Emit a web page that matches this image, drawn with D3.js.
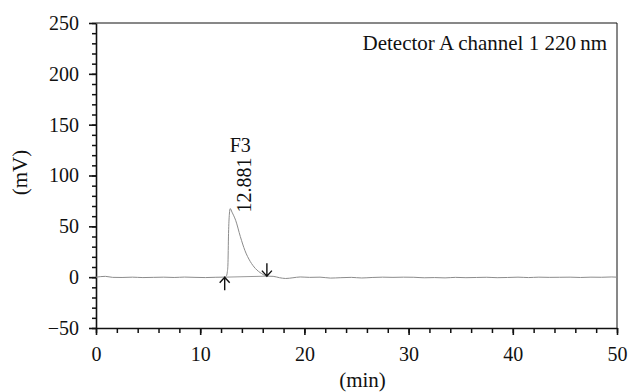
<!DOCTYPE html>
<html>
<head>
<meta charset="utf-8">
<script src="https://cdn.jsdelivr.net/npm/d3@7"></script>
<style>
  body { margin: 0; background: #fff; }
  svg text { font-family: "Liberation Serif", "Times New Roman", serif; fill: #111; }
</style>
</head>
<body>
<svg id="chart" width="629" height="392"></svg>
<script>
// retention time (min) and detector signal (mV)
const timeMin = [0, 0.9, 1.6, 2.5, 3.5, 4.5, 5.5, 6.5, 7.5, 8.5, 9.5, 10.5, 11.5, 12.1,
  12.4, 12.5, 12.6, 12.66, 12.72, 12.8, 12.88, 13.05, 13.4, 13.85, 14.3, 14.8, 15.3,
  15.9, 16.4, 17.0, 17.6, 18.2, 18.9, 19.6, 20.5, 21.5, 22.5, 23.5, 24.5, 25.5, 26.5,
  27.5, 28.5, 29.5, 30.5, 31.5, 32.5, 33.5, 34.5, 35.5, 36.5, 37.5, 38.5, 39.5, 40.5,
  41.5, 42.5, 43.5, 44.5, 45.5, 46.5, 47.5, 48.5, 49.5, 50];
const signalMv = [0, 0.8, -0.2, -0.3, 0, -0.4, -0.2, 0, -0.3, 0.1, -0.2, -0.4, -0.1, 0,
  0.5, 1, 5, 12, 43, 62, 67.5, 64, 56, 40, 26, 15.5, 8.5,
  3.5, 1, 0.8, -0.5, -1.3, -0.6, 0.2, -0.2, 0, -0.9, -0.5, -0.2, -0.8, -0.3,
  0, -0.2, 0, -0.1, -0.6, -0.4, -0.7, -0.2, -0.5, -0.3, -0.1, -0.5, -0.3, 0,
  -0.4, 0, -0.2, -0.1, 0, -0.3, 0, -0.1, 0.2, 0];

const xTicks = [0, 10, 20, 30, 40, 50];
const yTicks = [-50, 0, 50, 100, 150, 200, 250];

// integration marks of peak F3
const peakName = 'F3';
const peakTime = '12.881';
const peakTop = [12.88, 67.5];
const peakStart = [12.35, 0];
const peakEnd = [16.4, 1];

const detectorLabel = 'Detector A channel 1 220\u2009nm';

const svg = d3.select('#chart'),
  margin = {top: 23, right: 12, bottom: 64, left: 96},
  width = +svg.attr('width') - margin.left - margin.right,
  height = +svg.attr('height') - margin.top - margin.bottom;

const x = d3.scaleLinear().domain([0, 50]).range([0, width]),
  y = d3.scaleLinear().domain([-50, 250]).range([height, 0]);

const g = svg.append('g')
  .attr('transform', 'translate(' + margin.left + ',' + margin.top + ')');

// frame (top and right)
g.append('path')
  .attr('d', 'M0,0H' + width + 'V' + height)
  .attr('fill', 'none')
  .attr('stroke', '#111')
  .attr('stroke-width', 1);

// minor ticks
g.append('g')
  .attr('transform', 'translate(0,' + height + ')')
  .call(d3.axisBottom(x).tickValues(d3.range(0, 51, 2)).tickSize(5).tickFormat(''))
  .call(a => a.select('.domain').remove())
  .call(a => a.selectAll('line').attr('stroke-width', 1.5).attr('stroke', '#111'));
g.append('g')
  .call(d3.axisLeft(y).tickValues(d3.range(-50, 251, 10)).tickSize(4).tickFormat(''))
  .call(a => a.select('.domain').remove())
  .call(a => a.selectAll('line').attr('stroke-width', 1.5).attr('stroke', '#111'));

// major axes
const xAxis = g.append('g')
  .attr('transform', 'translate(0,' + height + ')')
  .call(d3.axisBottom(x).tickValues(xTicks).tickSize(7).tickSizeOuter(0).tickPadding(12));
const yAxis = g.append('g')
  .call(d3.axisLeft(y).tickValues(yTicks).tickSize(7).tickSizeOuter(0).tickPadding(10)
    .tickFormat(d => d < 0 ? '\u2212' + Math.abs(d) : d));

[xAxis, yAxis].forEach(a => {
  a.select('.domain').attr('stroke', '#111').attr('stroke-width', 1.6);
  a.selectAll('line').attr('stroke', '#111').attr('stroke-width', 1.6);
  a.selectAll('text').style('font-size', '20px').attr('fill', '#111')
    .style('font-family', '"Liberation Serif", serif');
});

// chromatogram trace
const line = d3.line()
  .x((d, i) => x(timeMin[i]))
  .y(d => y(d))
  .curve(d3.curveMonotoneX);

g.append('path')
  .datum(signalMv)
  .attr('d', line)
  .attr('fill', 'none')
  .attr('stroke', '#8c8c8c')
  .attr('stroke-width', 1);

// integration baseline
g.append('line')
  .attr('x1', x(peakStart[0])).attr('y1', y(peakStart[1]))
  .attr('x2', x(peakEnd[0])).attr('y2', y(peakEnd[1]))
  .attr('stroke', '#999')
  .attr('stroke-width', 1);

// start / end arrows
function arrow(px, py, dir) {
  // dir = 1 points up (drawn below), -1 points down (drawn above)
  const len = 13, w = 5, hh = 5.5;
  g.append('path')
    .attr('d', 'M' + px + ',' + py + 'v' + (dir * len) +
      'M' + (px - w) + ',' + (py + dir * hh) + 'L' + px + ',' + py + 'L' + (px + w) + ',' + (py + dir * hh))
    .attr('fill', 'none')
    .attr('stroke', '#111')
    .attr('stroke-width', 1.4);
}
arrow(x(peakStart[0]), y(peakStart[1]), 1);
arrow(x(peakEnd[0]), y(peakEnd[1]), -1);

// peak labels
g.append('text')
  .attr('x', x(peakTop[0]) + 10)
  .attr('y', y(peakTop[1]) - 57)
  .attr('text-anchor', 'middle')
  .style('font-size', '20px')
  .text(peakName);

g.append('text')
  .attr('transform', 'translate(' + (x(peakTop[0]) + 21) + ',' + (y(peakTop[1]) + 4) + ') rotate(-90)')
  .attr('text-anchor', 'start')
  .style('font-size', '20px')
  .text(peakTime);

// detector label
g.append('text')
  .attr('x', width - 10)
  .attr('y', 27)
  .attr('text-anchor', 'end')
  .style('font-size', '21px')
  .text(detectorLabel);

// axis titles
svg.append('text')
  .attr('x', margin.left + width / 2 + 6)
  .attr('y', 387)
  .attr('text-anchor', 'middle')
  .style('font-size', '21px')
  .text('(min)');

svg.append('text')
  .attr('transform', 'translate(27,' + (margin.top + height / 2 - 3) + ') rotate(-90)')
  .attr('text-anchor', 'middle')
  .style('font-size', '21px')
  .text('(mV)');
</script>
</body>
</html>
